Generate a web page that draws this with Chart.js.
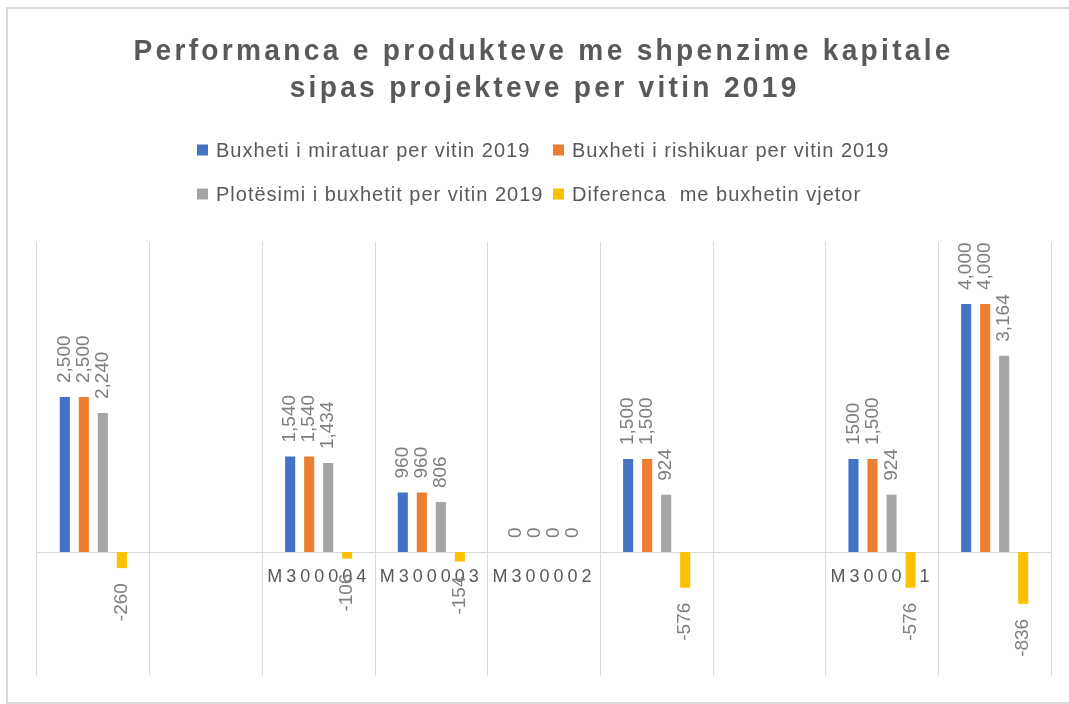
<!DOCTYPE html>
<html>
<head>
<meta charset="utf-8">
<script src="https://cdn.jsdelivr.net/npm/chart.js@4/dist/chart.umd.min.js"></script>
<style>
  html, body { margin: 0; padding: 0; background: #ffffff; }
  #wrap { width: 1069px; height: 704px; position: relative; }
</style>
</head>
<body>
<div id="wrap"><canvas id="c" width="1069" height="704"></canvas></div>
<script>
// ---- data ----
const titleLines = ['Performanca e produkteve me shpenzime kapitale', 'sipas projekteve per vitin 2019'];
const categories = ['', '', 'M300004', 'M300003', 'M300002', '', '', 'M300001', ''];
const seriesNames = ['Buxheti i miratuar per vitin 2019', 'Buxheti i rishikuar per vitin 2019', 'Plotësimi i buxhetit per vitin 2019', 'Diferenca  me buxhetin vjetor'];
const approved   = [2500, null, 1540, 960, 0, 1500, null, 1500, 4000];
const revised    = [2500, null, 1540, 960, 0, 1500, null, 1500, 4000];
const executed   = [2240, null, 1434, 806, 0,  924, null,  924, 3164];
const difference = [-260, null, -106, -154, 0, -576, null, -576, -836];
// label text as printed in the source (one label shown without thousands separator)
const approvedLabels = ['2,500', null, '1,540', '960', '0', '1,500', null, '1500', '4,000'];
const yMin = -2000, yMax = 5000;

const colors = ['#4472C4', '#ED7D31', '#A5A5A5', '#FFC000'];
const FONT = '"Liberation Sans", Arial, sans-serif';

function fmt(v) { return v.toLocaleString('en-US'); }

// draw text char by char with extra spacing and horizontal compression
function drawSpaced(ctx, text, cx, baseline, spacing, squeeze) {
  const chars = Array.from(text);
  const widths = chars.map(ch => ctx.measureText(ch).width * squeeze);
  const total = widths.reduce((a, b) => a + b, 0) + spacing * (chars.length - 1);
  let x = cx - total / 2;
  ctx.textAlign = 'left';
  ctx.textBaseline = 'alphabetic';
  chars.forEach((ch, i) => {
    ctx.save();
    ctx.translate(x, baseline);
    ctx.scale(squeeze, 1);
    ctx.fillText(ch, 0, 0);
    ctx.restore();
    x += widths[i] + spacing;
  });
}
function spacingToFit(ctx, text, target, squeeze) {
  const chars = Array.from(text);
  const w = chars.reduce((a, ch) => a + ctx.measureText(ch).width * squeeze, 0);
  return (target - w) / (chars.length - 1);
}

const decorPlugin = {
  id: 'decor',
  beforeDraw(chart) {
    const ctx = chart.ctx;
    ctx.save();
    // outer frame
    ctx.strokeStyle = '#d9d9d9';
    ctx.lineWidth = 2;
    ctx.strokeRect(7, 8, 1080, 695);
    // title
    ctx.fillStyle = '#595959';
    ctx.font = 'bold 29px ' + FONT;
    const squeeze = 0.97;
    const sp = spacingToFit(ctx, titleLines[0], 817, squeeze);
    drawSpaced(ctx, titleLines[0], 542, 60, sp, squeeze);
    drawSpaced(ctx, titleLines[1], 543, 97, sp, squeeze);
    // legend
    ctx.font = '20px ' + FONT;
    const cols = [197, 553];
    const rows = [157, 201];
    chart.data.datasets.forEach((ds, i) => {
      const bx = cols[i % 2], by = rows[Math.floor(i / 2)];
      ctx.fillStyle = ds.backgroundColor;
      ctx.fillRect(bx, by - 12.5, 11, 11);
      ctx.fillStyle = '#595959';
      let x = bx + 19;
      ctx.textAlign = 'left';
      ctx.textBaseline = 'alphabetic';
      for (const ch of Array.from(ds.label)) {
        ctx.fillText(ch, x, by);
        x += ctx.measureText(ch).width + 1;
      }
    });
    ctx.restore();
    // spacing for category tick labels
    if ('letterSpacing' in ctx) ctx.letterSpacing = '4px';
  },
  beforeDatasetsDraw(chart) {
    if ('letterSpacing' in chart.ctx) chart.ctx.letterSpacing = '0px';
  },
  afterDatasetsDraw(chart) {
    const ctx = chart.ctx;
    ctx.save();
    ctx.font = '19px ' + FONT;
    ctx.fillStyle = '#7f7f7f';
    ctx.textBaseline = 'middle';
    chart.data.datasets.forEach((ds, di) => {
      const meta = chart.getDatasetMeta(di);
      meta.data.forEach((bar, i) => {
        const v = ds.data[i];
        if (v === null || v === undefined) return;
        const text = (ds.labelTexts && ds.labelTexts[i]) ? ds.labelTexts[i] : fmt(v);
        ctx.save();
        if (v >= 0) {
          ctx.translate(bar.x, bar.y - 14);
          ctx.rotate(-Math.PI / 2);
          ctx.textAlign = 'left';
        } else {
          ctx.translate(bar.x, bar.y + 15);
          ctx.rotate(-Math.PI / 2);
          ctx.textAlign = 'right';
        }
        ctx.fillText(text, 0, 0);
        ctx.restore();
      });
    });
    ctx.restore();
  }
};

const datasetsSrc = [approved, revised, executed, difference];
const chart = new Chart(document.getElementById('c'), {
  type: 'bar',
  data: {
    labels: categories,
    datasets: datasetsSrc.map((arr, i) => ({
      label: seriesNames[i],
      data: arr,
      backgroundColor: colors[i],
      borderWidth: 0,
      categoryPercentage: 0.675,
      barPercentage: 0.53,
      labelTexts: i === 0 ? approvedLabels : null
    }))
  },
  options: {
    responsive: false,
    animation: false,
    devicePixelRatio: 1,
    layout: { padding: { left: 37, right: 18, top: 242, bottom: 28 } },
    plugins: {
      legend: { display: false },
      title: { display: false },
      tooltip: { enabled: false }
    },
    scales: {
      x: {
        position: { y: 0 },
        afterFit(scale) { scale.height = 0; },
        grid: { color: '#d9d9d9', lineWidth: 1, drawTicks: false, offset: true },
        border: { display: true, color: '#d9d9d9', width: 1 },
        ticks: {
          autoSkip: false, maxRotation: 0, minRotation: 0, padding: 14,
          color: '#595959', font: { family: FONT, size: 18 }
        }
      },
      y: {
        display: false,
        min: yMin,
        max: yMax
      }
    }
  },
  plugins: [decorPlugin]
});
</script>
</body>
</html>
